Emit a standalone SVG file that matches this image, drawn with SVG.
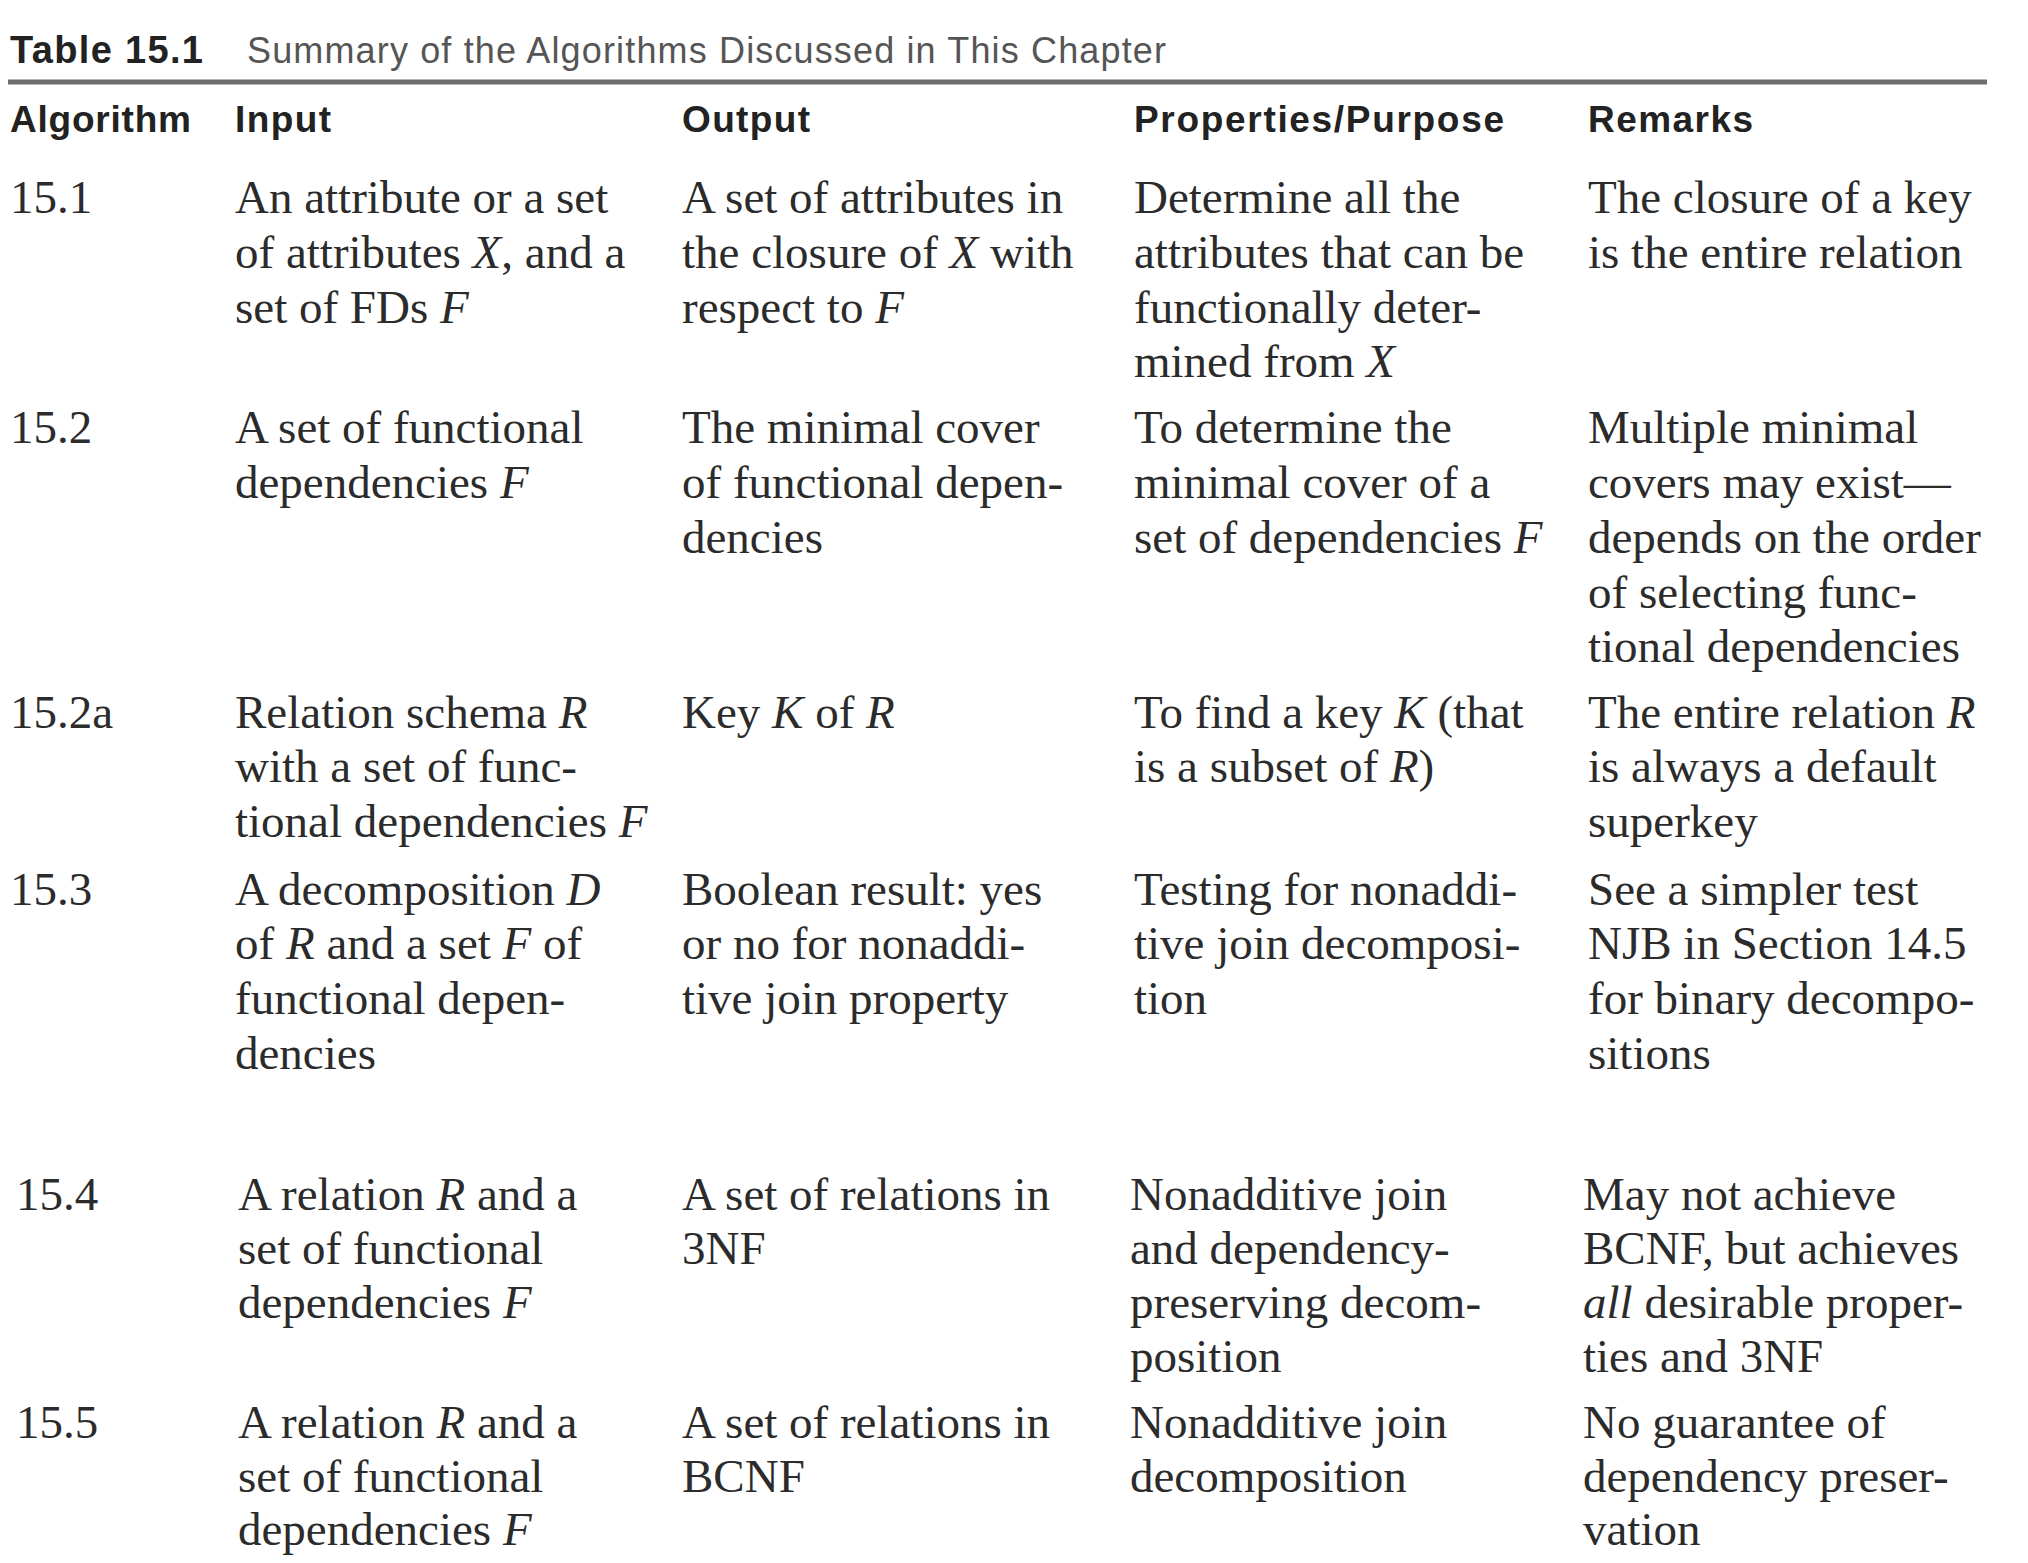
<svg xmlns="http://www.w3.org/2000/svg" width="2028" height="1563" viewBox="0 0 2028 1563">
<style>
.b{font-family:"Liberation Serif","Times New Roman",serif;font-size:47px;fill:#2b2b2b}
.i{font-style:italic}
.h{font-family:"Liberation Sans",Arial,sans-serif;font-size:37px;font-weight:bold;fill:#222}
.t{font-family:"Liberation Sans",Arial,sans-serif;font-size:38px;font-weight:bold;fill:#222}
.s{font-family:"Liberation Sans",Arial,sans-serif;font-size:36px;fill:#555}
</style>
<rect width="2028" height="1563" fill="#fff"/>
<g id="title">
<text class="t" x="10" y="63" textLength="193">Table 15.1</text>
<text class="s" x="247" y="63" textLength="919">Summary of the Algorithms Discussed in This Chapter</text>
<line x1="8" y1="82" x2="1987" y2="82" stroke="#6e6e6e" stroke-width="5"/>
</g>
<g id="header">
<text class="h" x="10" y="132" textLength="181">Algorithm</text>
<text class="h" x="235" y="132" textLength="96">Input</text>
<text class="h" x="682" y="132" textLength="128">Output</text>
<text class="h" x="1134" y="132" textLength="370">Properties/Purpose</text>
<text class="h" x="1588" y="132" textLength="165">Remarks</text>
</g>
<g id="row-15-1" class="b">
<text x="10" y="213">15.1</text>
<text x="235" y="213">An attribute or a set</text>
<text x="235" y="268">of attributes <tspan class="i">X</tspan>, and a</text>
<text x="235" y="323">set of FDs <tspan class="i">F</tspan></text>
<text x="682" y="213">A set of attributes in</text>
<text x="682" y="268">the closure of <tspan class="i">X</tspan> with</text>
<text x="682" y="323">respect to <tspan class="i">F</tspan></text>
<text x="1134" y="213">Determine all the</text>
<text x="1134" y="268">attributes that can be</text>
<text x="1134" y="323">functionally deter-</text>
<text x="1134" y="377">mined from <tspan class="i">X</tspan></text>
<text x="1588" y="213">The closure of a key</text>
<text x="1588" y="268">is the entire relation</text>
</g>
<g id="row-15-2" class="b">
<text x="10" y="443">15.2</text>
<text x="235" y="443">A set of functional</text>
<text x="235" y="498">dependencies <tspan class="i">F</tspan></text>
<text x="682" y="443">The minimal cover</text>
<text x="682" y="498">of functional depen-</text>
<text x="682" y="553">dencies</text>
<text x="1134" y="443">To determine the</text>
<text x="1134" y="498">minimal cover of a</text>
<text x="1134" y="553">set of dependencies <tspan class="i">F</tspan></text>
<text x="1588" y="443">Multiple minimal</text>
<text x="1588" y="498">covers may exist—</text>
<text x="1588" y="553">depends on the order</text>
<text x="1588" y="608">of selecting func-</text>
<text x="1588" y="662">tional dependencies</text>
</g>
<g id="row-15-2a" class="b">
<text x="10" y="728">15.2a</text>
<text x="235" y="728">Relation schema <tspan class="i">R</tspan></text>
<text x="235" y="782">with a set of func-</text>
<text x="235" y="837">tional dependencies <tspan class="i">F</tspan></text>
<text x="682" y="728">Key <tspan class="i">K</tspan> of <tspan class="i">R</tspan></text>
<text x="1134" y="728">To find a key <tspan class="i">K</tspan> (that</text>
<text x="1134" y="782">is a subset of <tspan class="i">R</tspan>)</text>
<text x="1588" y="728">The entire relation <tspan class="i">R</tspan></text>
<text x="1588" y="782">is always a default</text>
<text x="1588" y="837">superkey</text>
</g>
<g id="row-15-3" class="b">
<text x="10" y="905">15.3</text>
<text x="235" y="905">A decomposition <tspan class="i">D</tspan></text>
<text x="235" y="959">of <tspan class="i">R</tspan> and a set <tspan class="i">F</tspan> of</text>
<text x="235" y="1014">functional depen-</text>
<text x="235" y="1069">dencies</text>
<text x="682" y="905">Boolean result: yes</text>
<text x="682" y="959">or no for nonaddi-</text>
<text x="682" y="1014">tive join property</text>
<text x="1134" y="905">Testing for nonaddi-</text>
<text x="1134" y="959">tive join decomposi-</text>
<text x="1134" y="1014">tion</text>
<text x="1588" y="905">See a simpler test</text>
<text x="1588" y="959">NJB in Section 14.5</text>
<text x="1588" y="1014">for binary decompo-</text>
<text x="1588" y="1069">sitions</text>
</g>
<g id="row-15-4" class="b">
<text x="16" y="1210">15.4</text>
<text x="238" y="1210">A relation <tspan class="i">R</tspan> and a</text>
<text x="238" y="1264">set of functional</text>
<text x="238" y="1318">dependencies <tspan class="i">F</tspan></text>
<text x="682" y="1210">A set of relations in</text>
<text x="682" y="1264">3NF</text>
<text x="1130" y="1210">Nonadditive join</text>
<text x="1130" y="1264">and dependency-</text>
<text x="1130" y="1318">preserving decom-</text>
<text x="1130" y="1372">position</text>
<text x="1583" y="1210">May not achieve</text>
<text x="1583" y="1264">BCNF, but achieves</text>
<text x="1583" y="1318"><tspan class="i">all</tspan> desirable proper-</text>
<text x="1583" y="1372">ties and 3NF</text>
</g>
<g id="row-15-5" class="b">
<text x="16" y="1438">15.5</text>
<text x="238" y="1438">A relation <tspan class="i">R</tspan> and a</text>
<text x="238" y="1492">set of functional</text>
<text x="238" y="1545">dependencies <tspan class="i">F</tspan></text>
<text x="682" y="1438">A set of relations in</text>
<text x="682" y="1492">BCNF</text>
<text x="1130" y="1438">Nonadditive join</text>
<text x="1130" y="1492">decomposition</text>
<text x="1583" y="1438">No guarantee of</text>
<text x="1583" y="1492">dependency preser-</text>
<text x="1583" y="1545">vation</text>
</g>
</svg>
